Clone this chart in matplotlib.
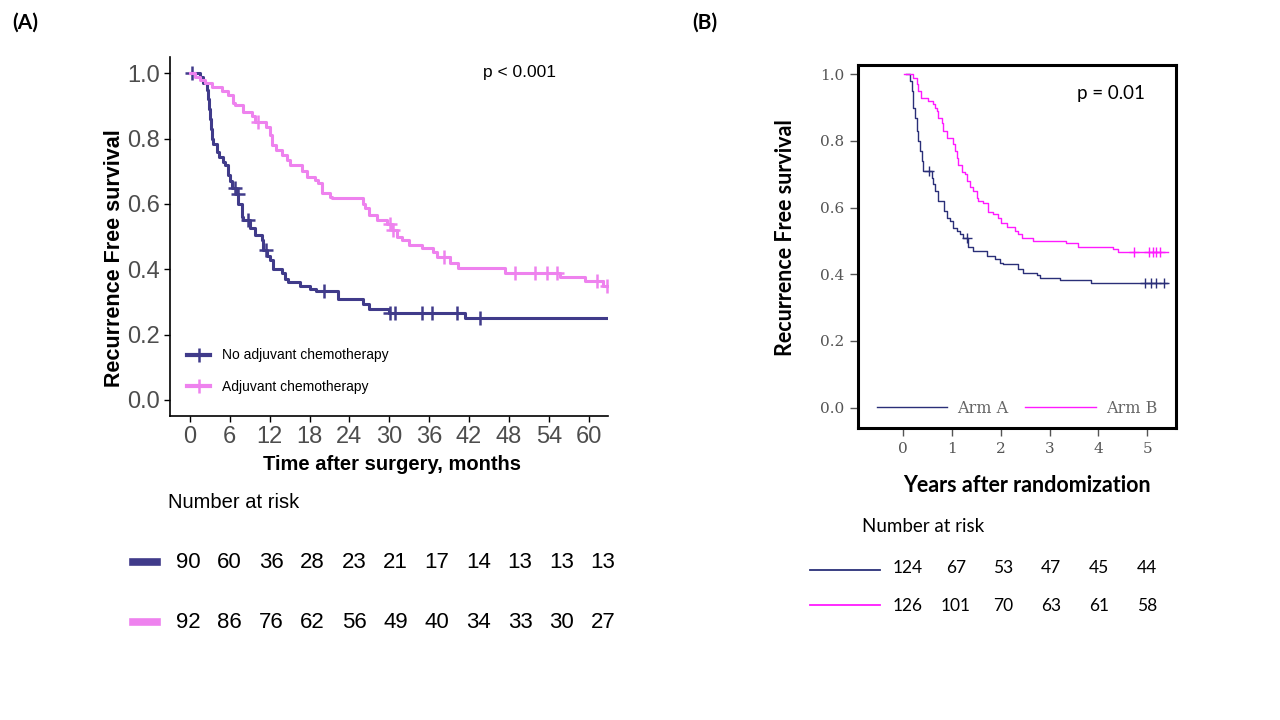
import numpy as np
import matplotlib.pyplot as plt
from matplotlib.lines import Line2D
from matplotlib.transforms import blended_transform_factory

# ---- panel A: months after surgery ----
a_no_t = [0, 1.5, 2.0, 2.5, 2.7, 2.9, 3.0, 3.1, 3.3, 3.5, 4.0, 4.3, 5.0, 5.3, 5.8, 6.0, 6.3,
          6.9, 7.3, 7.8, 8.0, 9.0, 9.8, 10.8, 11.0, 11.6, 12.0, 12.5, 13.8, 14.3, 14.8,
          16.6, 18.0, 19.0, 22.3, 26.1, 26.9, 29.9, 41.4]
a_no_s = [1.0, 0.99, 0.97, 0.95, 0.92, 0.89, 0.86, 0.83, 0.80, 0.785, 0.76, 0.745, 0.73, 0.72,
          0.69, 0.67, 0.65, 0.63, 0.60, 0.56, 0.55, 0.525, 0.505, 0.49, 0.46, 0.44, 0.43, 0.40,
          0.39, 0.37, 0.36, 0.35, 0.34, 0.335, 0.31, 0.295, 0.28, 0.265, 0.25]
a_no_cens = [0.3, 6.8, 7.2, 8.8, 11.5, 20.2, 30.1, 30.9, 34.9, 36.4, 40.2, 43.7]

a_adj_t = [0, 0.75, 1.5, 2.2, 3.3, 4.8, 5.8, 6.5, 6.8, 8.0, 9.3, 9.8, 11.5, 12.0, 12.3, 13.0,
           13.8, 14.6, 15.0, 16.8, 17.6, 18.8, 19.3, 19.8, 21.1, 21.3, 26.1, 26.4, 26.9, 28.1,
           29.6, 30.4, 31.1, 31.9, 32.9, 34.9, 36.6, 37.2, 39.2, 40.4, 47.4, 55.7, 59.5, 62.2]
a_adj_s = [1.0, 0.99, 0.98, 0.97, 0.957, 0.947, 0.934, 0.91, 0.903, 0.883, 0.87, 0.852, 0.837,
           0.81, 0.78, 0.765, 0.75, 0.735, 0.72, 0.70, 0.684, 0.673, 0.663, 0.633, 0.622, 0.617,
           0.60, 0.587, 0.566, 0.551, 0.54, 0.52, 0.50, 0.49, 0.474, 0.464, 0.454, 0.439, 0.418,
           0.403, 0.39, 0.378, 0.364, 0.35]
a_adj_cens = [10.3, 30.1, 30.6, 38.2, 48.9, 51.9, 53.7, 55.2, 61.2, 62.7]
a_end = 63.0

risk_a_times = [0, 6, 12, 18, 24, 30, 36, 42, 48, 54, 60]
risk_a_no = [90, 60, 36, 28, 23, 21, 17, 14, 13, 13, 13]
risk_a_adj = [92, 86, 76, 62, 56, 49, 40, 34, 33, 30, 27]

# ---- panel B: years after randomization ----
b_a_t = [0.05, 0.14, 0.17, 0.2, 0.24, 0.27, 0.31, 0.34, 0.38, 0.41, 0.58, 0.61, 0.65, 0.72,
         0.83, 0.89, 0.96, 1.02, 1.09, 1.16, 1.23, 1.33, 1.43, 1.71, 1.88, 1.98, 2.05, 2.36,
         2.46, 2.73, 2.8, 3.21, 3.84]
b_a_s = [1.0, 0.98, 0.95, 0.90, 0.87, 0.83, 0.80, 0.77, 0.74, 0.71, 0.69, 0.67, 0.65, 0.62,
         0.59, 0.57, 0.56, 0.54, 0.53, 0.52, 0.51, 0.483, 0.47, 0.455, 0.445, 0.435, 0.43,
         0.415, 0.405, 0.397, 0.39, 0.383, 0.373]
b_a_cens = [0.53, 1.3, 4.95, 5.07, 5.19, 5.34]
b_a_end = 5.41

b_b_t = [0.02, 0.2, 0.27, 0.31, 0.36, 0.51, 0.61, 0.65, 0.68, 0.72, 0.79, 0.82, 0.89, 1.01,
         1.06, 1.09, 1.13, 1.2, 1.26, 1.3, 1.37, 1.43, 1.5, 1.54, 1.64, 1.74, 1.84, 1.95, 2.01,
         2.12, 2.29, 2.36, 2.43, 2.66, 3.33, 3.59, 4.3, 4.41]
b_b_s = [1.0, 0.99, 0.97, 0.95, 0.928, 0.92, 0.91, 0.90, 0.89, 0.87, 0.853, 0.83, 0.808, 0.79,
         0.77, 0.75, 0.728, 0.708, 0.70, 0.68, 0.663, 0.65, 0.63, 0.62, 0.613, 0.588, 0.58,
         0.57, 0.553, 0.543, 0.53, 0.52, 0.508, 0.50, 0.493, 0.483, 0.475, 0.468]
b_b_cens = [4.73, 5.04, 5.12, 5.19, 5.26]
b_b_end = 5.43

risk_b_times = [0, 1, 2, 3, 4, 5]
risk_b_a = [124, 67, 53, 47, 45, 44]
risk_b_b = [126, 101, 70, 63, 61, 58]

DARK_A, PINK_A = '#403B8A', '#EE82EE'
DARK_B, PINK_B = '#2A2F78', '#FF1AFF'
SANS = 'Liberation Sans'
CAL = 'Lato'
SERIF = 'DejaVu Serif'

W, H = 1280, 720


def box(l, t, r, b):
    return [l / W, 1 - b / H, (r - l) / W, (b - t) / H]


def fx(x):
    return x / W


def fy(y):
    return 1 - y / H


def km(ax, t, s, end, cens, color, lw, ms, mew):
    tt = list(t) + [end]
    ss = list(s) + [s[-1]]
    line, = ax.plot(tt, ss, drawstyle='steps-post', color=color, lw=lw)
    idx = np.searchsorted(t, cens, side='right') - 1
    ax.plot(cens, np.array(s)[idx], ls='none', marker='+', color=color, ms=ms, mew=mew)
    return line


fig = plt.figure(figsize=(12.8, 7.2), dpi=100)

# ---------------- panel A ----------------
axA = fig.add_axes(box(170, 57, 608, 416))
km(axA, a_no_t, a_no_s, a_end, a_no_cens, DARK_A, 2.2, 10, 1.8)
km(axA, a_adj_t, a_adj_s, a_end, a_adj_cens, PINK_A, 2.2, 10, 1.8)
axA.set_xlim(-3.0, 62.9)
axA.set_ylim(-0.049, 1.05)
axA.set_xticks(risk_a_times)
axA.set_yticks(np.arange(0, 1.01, 0.2))
axA.set_yticklabels(['%.1f' % v for v in np.arange(0, 1.01, 0.2)])
for sp in ['top', 'right']:
    axA.spines[sp].set_visible(False)
for sp in ['left', 'bottom']:
    axA.spines[sp].set_linewidth(1.2)
axA.tick_params(labelsize=17, labelcolor='#4D4D4D', length=4, width=1, pad=3)
for lab in axA.get_xticklabels() + axA.get_yticklabels():
    lab.set_family(SANS)
fig.text(fx(483), fy(72), 'p < 0.001', fontsize=12.5, family=SANS, va='center')

hA = [Line2D([], [], color=DARK_A, lw=3, marker='+', ms=10, mew=1.8),
      Line2D([], [], color=PINK_A, lw=3, marker='+', ms=10, mew=1.8)]
axA.legend(hA, ['No adjuvant chemotherapy', 'Adjuvant chemotherapy'], loc='center left',
           bbox_to_anchor=(0.039, 0.125), frameon=False, borderpad=0, borderaxespad=0,
           handlelength=1.66, handletextpad=0.86, labelspacing=1.25,
           prop={'family': SANS, 'size': 10})

fig.text(fx(115), fy(258), 'Recurrence Free survival', rotation=90, ha='center', va='center',
         fontsize=15.5, fontweight='bold', family=SANS)
fig.text(fx(392), fy(465), 'Time after surgery, months', ha='center', va='center',
         fontsize=14.5, fontweight='bold', family=SANS)

# risk table A
axRA = fig.add_axes(box(188, 480, 603, 640))
axRA.set_xlim(0, 60)
axRA.axis('off')
trA = blended_transform_factory(axRA.transData, fig.transFigure)
fig.text(fx(168), fy(503), 'Number at risk', fontsize=14.5, family=SANS, va='center')
for t, n1, n2 in zip(risk_a_times, risk_a_no, risk_a_adj):
    axRA.text(t, fy(562), str(n1), transform=trA, ha='center', va='center',
              fontsize=16, family=SANS)
    axRA.text(t, fy(622), str(n2), transform=trA, ha='center', va='center',
              fontsize=16, family=SANS)
fig.add_artist(Line2D([fx(133), fx(157)], [fy(562)] * 2, color=DARK_A, lw=5.5))
fig.add_artist(Line2D([fx(133), fx(157)], [fy(622)] * 2, color=PINK_A, lw=5.5))

# ---------------- panel B ----------------
axB = fig.add_axes(box(858, 65, 1176, 428))
lA = km(axB, b_a_t, b_a_s, b_a_end, b_a_cens, DARK_B, 1.0, 7, 1.0)
lB = km(axB, b_b_t, b_b_s, b_b_end, b_b_cens, PINK_B, 1.0, 7, 1.0)
axB.set_xlim(-0.93, 5.59)
axB.set_ylim(-0.061, 1.028)
axB.set_xticks(risk_b_times)
axB.set_yticks(np.arange(0, 1.01, 0.2))
axB.set_yticklabels(['%.1f' % v for v in np.arange(0, 1.01, 0.2)])
for sp in axB.spines.values():
    sp.set_linewidth(2.2)
axB.tick_params(labelsize=11, labelcolor='#555555', color='#555555', length=6, width=1, pad=4)
for lab in axB.get_xticklabels() + axB.get_yticklabels():
    lab.set_family(SERIF)
axB.legend([lA, lB], ['Arm A', 'Arm B'], ncol=2, loc='center', bbox_to_anchor=(0.50, 0.055),
           frameon=False, handlelength=4.4, handletextpad=0.63, columnspacing=1.06,
           prop={'family': SERIF, 'size': 11.5}, labelcolor='#666666')
fig.text(fx(1077), fy(93), 'p = 0.01', fontsize=13.5, family=CAL, va='center')

fig.text(fx(785), fy(238), 'Recurrence Free survival', rotation=90, ha='center', va='center',
         fontsize=15.5, fontweight='bold', family=CAL)
fig.text(fx(1027), fy(485), 'Years after randomization', ha='center', va='center',
         fontsize=15.5, fontweight='bold', family=CAL)

# risk table B
axRB = fig.add_axes(box(908, 500, 1147, 640))
axRB.set_xlim(0, 5)
axRB.axis('off')
trB = blended_transform_factory(axRB.transData, fig.transFigure)
fig.text(fx(862), fy(527), 'Number at risk', fontsize=13.5, family=CAL, va='center')
for t, n1, n2 in zip(risk_b_times, risk_b_a, risk_b_b):
    axRB.text(t, fy(568), str(n1), transform=trB, ha='center', va='center',
              fontsize=12.5, family=CAL)
    axRB.text(t, fy(606), str(n2), transform=trB, ha='center', va='center',
              fontsize=12.5, family=CAL)
fig.add_artist(Line2D([fx(810), fx(880)], [fy(570)] * 2, color=DARK_B, lw=1.3))
fig.add_artist(Line2D([fx(810), fx(880)], [fy(605)] * 2, color=PINK_B, lw=1.3))

fig.text(fx(12), fy(23), '(A)', fontsize=15, fontweight='bold', family=CAL, va='center')
fig.text(fx(692), fy(23), '(B)', fontsize=15, fontweight='bold', family=CAL, va='center')

fig.savefig('out.png', dpi=100)
